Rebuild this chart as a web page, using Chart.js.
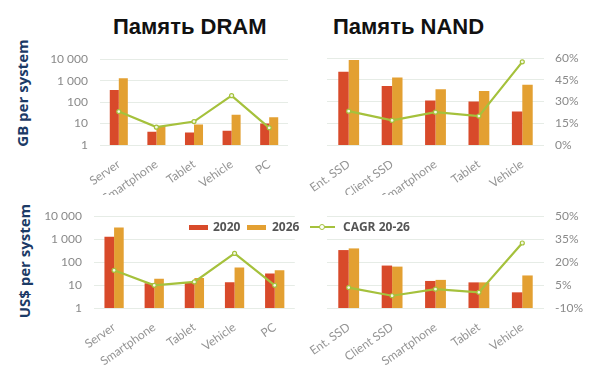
<!DOCTYPE html>
<html>
<head>
<meta charset="utf-8">
<script src="https://cdn.jsdelivr.net/npm/chart.js@4.4.1/dist/chart.umd.min.js"></script>
<style>
  body { margin: 0; background: #fff; width: 590px; height: 373px; overflow: hidden; position: relative; font-family: "Open Sans", sans-serif; }
  canvas { position: absolute; }
  .head { position: absolute; font: bold 22px "Liberation Sans", Arial, sans-serif; color: #111; line-height: 22px; white-space: nowrap; }
  .ytitle { position: absolute; font: bold 15px "Open Sans", sans-serif; color: #1b3a66; white-space: nowrap;
            transform: translate(-50%, -50%) rotate(-90deg); }
  .lg { position: absolute; font: bold 12px "Open Sans", sans-serif; color: #555; line-height: 14px; white-space: nowrap; }
</style>
</head>
<body>
<div class="head" style="left:113px; top:16px;">Память DRAM</div>
<div class="head" style="left:333px; top:16px;">Память NAND</div>
<div class="ytitle" style="left:22px; top:93px;">GB per system</div>
<div class="ytitle" style="left:24px; top:261px;">US$ per system</div>

<canvas id="tl" width="300" height="155" style="left:0; top:40px;"></canvas>
<canvas id="tr" width="290" height="155" style="left:300px; top:40px;"></canvas>
<canvas id="bl" width="300" height="178" style="left:0; top:195px;"></canvas>
<canvas id="br" width="290" height="178" style="left:300px; top:195px;"></canvas>

<div style="position:absolute; left:186px; top:219px; width:232px; height:17px; background:#fff;"></div>
<div style="position:absolute; left:189px; top:225px; width:19px; height:5px; background:#d84a2a;"></div>
<div class="lg" style="left:213px; top:220px;">2020</div>
<div style="position:absolute; left:247px; top:225px; width:19px; height:5px; background:#e3a032;"></div>
<div class="lg" style="left:272px; top:220px;">2026</div>
<div style="position:absolute; left:310px; top:226px; width:25px; height:2px; background:#a5c13c;"></div>
<div style="position:absolute; left:319px; top:224px; width:4px; height:4px; border:1.5px solid #a5c13c; border-radius:50%; background:#fff;"></div>
<div class="lg" style="left:343px; top:220px;">CAGR 20-26</div>

<script>
var dramCats = ["Server", "Smartphone", "Tablet", "Vehicle", "PC"];
var nandCats = ["Ent. SSD", "Client SSD", "Smartphone", "Tablet", "Vehicle"];

var dramGb2020 = [370, 4.1, 3.8, 4.6, 10];
var dramGb2026 = [1280, 7.5, 9, 26, 19.5];
var dramGbCagr = [23.4, 12.5, 16.4, 34.5, 12];

var nandGb2020 = [2400, 530, 112, 100, 35];
var nandGb2026 = [8300, 1300, 370, 310, 590];
var nandGbCagr = [23.4, 17, 22.7, 20, 57.5];

var dramUsd2020 = [1240, 12, 13, 13.3, 32];
var dramUsd2026 = [3150, 18.5, 20, 57, 44];
var dramUsdCagr = [14.6, 4.8, 7, 25.6, 4.8];

var nandUsd2020 = [330, 70, 15, 13, 4.8];
var nandUsd2026 = [390, 63, 16.7, 13, 26];
var nandUsdCagr = [3.3, -2, 2.3, 0.2, 32.4];

var logTicks = [1, 10, 100, 1000, 10000];
var pctTicksTop = [0, 15, 30, 45, 60];
var pctTicksBottom = [-10, 5, 20, 35, 50];

var RED = "#d84a2a", ORANGE = "#e3a032", GREEN = "#a5c13c", GRID = "#e6ece6";

function fmtThousands(v) {
  return String(v).replace(/\B(?=(\d{3})+(?!\d))/g, " ");
}

function makeChart(id, cats, v20, v26, cagr, pctTicks, o) {
  var showLeft = o.side === "left";
  new Chart(document.getElementById(id), {
    type: "bar",
    data: {
      labels: cats,
      datasets: [
        { type: "line", label: "CAGR 20-26", data: cagr, yAxisID: "pct", order: 0,
          borderColor: GREEN, borderWidth: 2.2, tension: 0,
          pointRadius: 2, pointBackgroundColor: "#f4f8e6", pointBorderColor: GREEN, pointBorderWidth: 1.2 },
        { type: "bar", label: "2020", data: v20, yAxisID: "y", order: 1, backgroundColor: RED,
          categoryPercentage: 0.48, barPercentage: 1.0 },
        { type: "bar", label: "2026", data: v26, yAxisID: "y", order: 1, backgroundColor: ORANGE,
          categoryPercentage: 0.48, barPercentage: 1.0 }
      ]
    },
    options: {
      responsive: false,
      animation: false,
      devicePixelRatio: 1,
      layout: { padding: o.padding },
      plugins: { legend: { display: false }, tooltip: { enabled: false } },
      scales: {
        x: {
          type: "category",
          grid: { display: false },
          border: { display: false },
          ticks: { color: "#949494", font: { family: "Lato", size: 12 }, minRotation: 35, maxRotation: 35,
                   autoSkip: false, padding: 4 },
          afterFit: function (s) { s.height = o.xh; }
        },
        y: {
          type: "logarithmic", position: "left", min: 1, max: 10000,
          display: showLeft,
          grid: { color: GRID, drawTicks: false },
          border: { display: false },
          ticks: { color: "#8a8a8a", font: { family: "Lato", size: 12 }, padding: 12,
                   callback: function (v) { return fmtThousands(v); } },
          afterBuildTicks: function (s) { s.ticks = logTicks.map(function (v) { return { value: v }; }); },
          afterFit: function (s) { if (o.yw) s.width = o.yw; }
        },
        pct: {
          type: "linear", position: "right",
          min: pctTicks[0], max: pctTicks[pctTicks.length - 1],
          display: !showLeft,
          grid: { color: GRID, drawTicks: false },
          border: { display: false },
          ticks: { color: "#8a8a8a", font: { family: "Lato", size: 12 }, padding: 11,
                   callback: function (v) { return v + "%"; } },
          afterBuildTicks: function (s) { s.ticks = pctTicks.map(function (v) { return { value: v }; }); },
          afterFit: function (s) { if (o.pw) s.width = o.pw; }
        }
      }
    }
  });
}

makeChart("tl", dramCats, dramGb2020, dramGb2026, dramGbCagr, pctTicksTop,
  { side: "left", padding: { top: 18, right: 12 }, xh: 50, yw: 100 });
makeChart("tr", nandCats, nandGb2020, nandGb2026, nandGbCagr, pctTicksTop,
  { side: "right", padding: { top: 18, left: 27 }, xh: 50, pw: 46 });
makeChart("bl", dramCats, dramUsd2020, dramUsd2026, dramUsdCagr, pctTicksBottom,
  { side: "left", padding: { top: 21, right: 1 }, xh: 65, yw: 94 });
makeChart("br", nandCats, nandUsd2020, nandUsd2026, nandUsdCagr, pctTicksBottom,
  { side: "right", padding: { top: 21, left: 27 }, xh: 65, pw: 46 });
</script>
</body>
</html>
